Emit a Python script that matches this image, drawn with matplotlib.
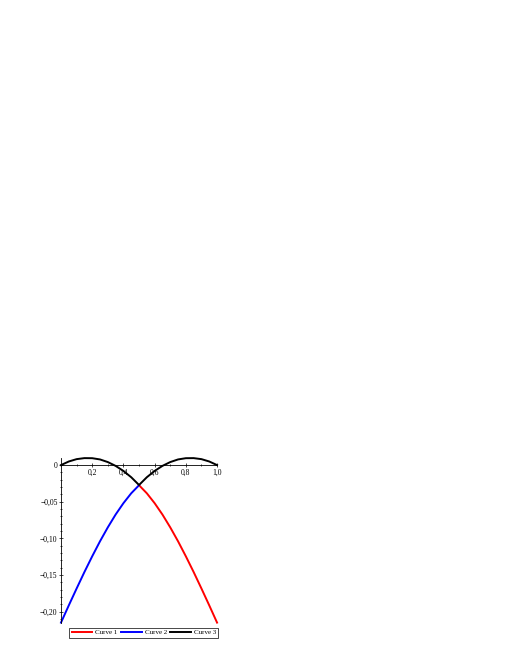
import matplotlib
matplotlib.use("Agg")
import matplotlib.pyplot as plt
from matplotlib.ticker import MultipleLocator, FuncFormatter

# Data
x_left = [0.0, 0.05, 0.1, 0.15, 0.2, 0.25, 0.3, 0.35, 0.4, 0.45, 0.5]
x_right = [0.5, 0.55, 0.6, 0.65, 0.7, 0.75, 0.8, 0.85, 0.9, 0.95, 1.0]
curve2 = [-0.215, -0.1915, -0.1685, -0.146, -0.1245, -0.104, -0.085, -0.0675, -0.052, -0.0385, -0.0275]
curve1 = [-0.0275, -0.0385, -0.052, -0.0675, -0.085, -0.104, -0.1245, -0.146, -0.1685, -0.1915, -0.215]
x_full = [0.0, 0.05, 0.1, 0.15, 0.2, 0.25, 0.3, 0.35, 0.4, 0.45, 0.5,
          0.55, 0.6, 0.65, 0.7, 0.75, 0.8, 0.85, 0.9, 0.95, 1.0]
curve3 = [0.0, 0.0049, 0.0081, 0.0095, 0.0094, 0.0077, 0.0041, -0.0011, -0.0080, -0.0166, -0.0272,
          -0.0166, -0.0080, -0.0011, 0.0041, 0.0077, 0.0094, 0.0095, 0.0081, 0.0049, 0.0]
labels = ["Curve 1", "Curve 2", "Curve 3"]
xticks = [0.2, 0.4, 0.6, 0.8, 1.0]
yticks = [0.0, -0.05, -0.10, -0.15, -0.20]

plt.rcParams['font.family'] = ['Liberation Serif', 'DejaVu Serif']

fig = plt.figure(figsize=(5.1, 6.6), dpi=100)
ax = fig.add_axes([0.1196, 0.0561, 0.306, 0.25])

kw = dict(lw=1.4, clip_on=False, solid_joinstyle='round')
l1, = ax.plot(x_right, curve1, color='#ff0000', **kw)
l2, = ax.plot(x_left, curve2, color='#0000ff', **kw)
l3, = ax.plot(x_full, curve3, color='black', **kw)

ax.set_xlim(0, 1.0)
ax.set_ylim(-0.2155, 0.0097)

for s in ['top', 'right']:
    ax.spines[s].set_visible(False)
ax.spines['bottom'].set_position(('data', 0))
ax.spines['left'].set_position(('data', 0))
ax.spines['bottom'].set_linewidth(0.6)
ax.spines['left'].set_linewidth(0.6)

ax.set_xticks(xticks)
ax.xaxis.set_major_formatter(FuncFormatter(lambda v, p: f"{v:.1f}".replace('.', ',')))
ax.set_yticks(yticks)
ax.yaxis.set_major_formatter(FuncFormatter(lambda v, p: "0" if abs(v) < 1e-9 else f"{v:.2f}".replace('.', ',').replace('-', '\u2212')))
ax.xaxis.set_minor_locator(MultipleLocator(0.1))
ax.yaxis.set_minor_locator(MultipleLocator(0.01))
ax.tick_params(axis='both', which='major', labelsize=5.5, length=3, width=0.5, direction='inout', pad=1)
ax.tick_params(axis='both', which='minor', length=1.5, width=0.5, direction='inout')

fig.legend([l1, l2, l3], labels, loc='upper center', bbox_to_anchor=(0.282, 0.0545),
           ncol=3, fontsize=5, frameon=True, fancybox=False, edgecolor='black',
           handlelength=3.0, handletextpad=0.4, columnspacing=0.5, borderpad=0.3,
           framealpha=1)
leg = fig.legends[0]
leg.get_frame().set_linewidth(0.5)

fig.savefig("out.png", dpi=100)
